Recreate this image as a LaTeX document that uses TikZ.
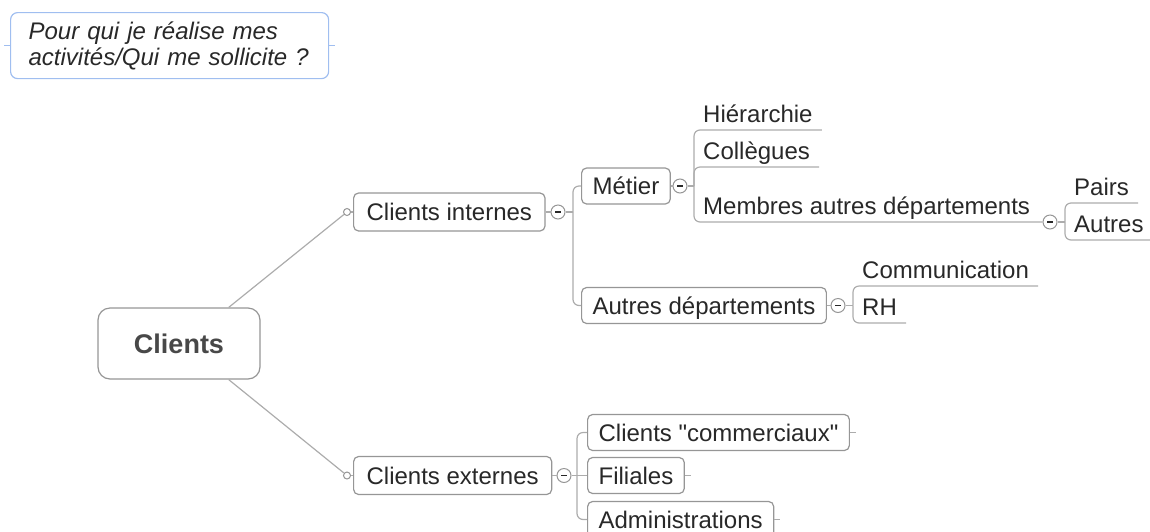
\documentclass[tikz,border=0pt]{standalone}
\usepackage{fontspec}
\newfontfamily\mmfont{Liberation Sans}
\usetikzlibrary{positioning}
\definecolor{mmline}{RGB}{172,172,172}
\definecolor{mmbox}{RGB}{150,150,150}
\definecolor{mmtext}{RGB}{40,40,40}
\definecolor{noteblue}{RGB}{160,190,240}
\tikzset{
  conn/.style={draw=mmline,line width=1.2pt},
  topic/.style={draw=mmbox,line width=1.2pt,rounded corners=5pt,fill=white,text=mmtext,font=\mmfont\fontsize{24}{26}\selectfont,text height=19pt,text depth=2pt,inner xsep=11pt,minimum height=36pt,anchor=west},
  maintopic/.style={topic,inner xsep=13pt,minimum height=38pt},
  root/.style={draw=mmbox,line width=1.2pt,rounded corners=12pt,fill=white,text=mmtext!85,font=\mmfont\fontsize{27}{30}\selectfont\bfseries,minimum width=162pt,minimum height=71pt},
  leaf/.style={text=mmtext,font=\mmfont\fontsize{24}{26}\selectfont,text height=19pt,text depth=2pt,inner xsep=9pt,inner ysep=5.5pt,anchor=south west},
  coll/.style={circle,draw=mmbox,fill=white,line width=1pt,minimum size=14pt,inner sep=0pt,path picture={\draw[mmtext,line width=1.4pt] ([xshift=-3pt]path picture bounding box.center) -- ([xshift=3pt]path picture bounding box.center);}},
  knob/.style={circle,draw=mmbox,fill=white,line width=1pt,minimum size=7pt,inner sep=0pt},
  note/.style={draw=noteblue,line width=1.2pt,rounded corners=7pt,text=mmtext,font=\mmfont\fontsize{24}{26}\selectfont\itshape,align=left,text width=282pt,inner xsep=18pt,minimum height=66pt,anchor=north west}
}
\begin{document}
\begin{tikzpicture}[x=1pt,y=-1pt]
  \useasboundingbox (0,0) rectangle (1150,531);
  \clip (0,0) rectangle (1150,531);
  \node[note] (q) at (10,12) {Pour qui je réalise mes\\activités/Qui me sollicite ?};
  \draw[conn,draw=noteblue] (q.west) -- ++(-6,0); \draw[conn,draw=noteblue] (q.east) -- ++(6,0);
  \node[root] (cl) at (179,343.5) {Clients};
  \node[maintopic] (ci) at (353,212) {Clients internes};
  \node[maintopic] (ce) at (353,475.5) {Clients externes};
  \node[knob] (ki) at (347,212) {}; \node[knob] (ke) at (347,475.5) {};
  \draw[conn] (cl.36) -- (ki); \draw[conn] (ki) -- (ci);
  \draw[conn] (cl.-36) -- (ke); \draw[conn] (ke) -- (ce);
  % clients internes
  \node[coll] (mi) at (558,212) {}; \coordinate (bi) at (573,212);
  \node[topic] (met) at (581,186) {Métier};
  \node[topic] (aut) at (581,305.5) {Autres départements};
  \draw[conn] (ci) -- (mi); \draw[conn] (mi) -- (bi);
  \draw[conn,rounded corners=6pt] (bi) |- (met.west); \draw[conn,rounded corners=6pt] (bi) |- (aut.west);
  \node[coll] (mm) at (680,186) {}; \coordinate (bm) at (694,186);
  \node[leaf] (hie) at (694,130) {Hiérarchie};
  \node[leaf] (col) at (694,167) {Collègues};
  \node[leaf] (mem) at (694,222) {Membres autres départements};
  \node[coll] (mmem) at (1050,222) {};
  \draw[conn] (met) -- (mm); \draw[conn] (mm) -- (bm);
  \draw[conn,rounded corners=6pt] (bm) |- (hie.south east); \draw[conn,rounded corners=6pt] (bm) |- (col.south east);
  \draw[conn,rounded corners=6pt] (bm) |- (mmem.west);
  \coordinate (bp) at (1065,222);
  \node[leaf] (pai) at (1065,203) {Pairs}; \node[leaf] (aus) at (1065,240) {Autres};
  \draw[conn] (mmem) -- (bp);
  \draw[conn,rounded corners=6pt] (bp) |- (pai.south east); \draw[conn,rounded corners=6pt] (bp) |- (aus.south east);
  \node[coll] (ma) at (838,305.5) {}; \coordinate (bc) at (853,305.5);
  \node[leaf] (com) at (853,286) {Communication}; \node[leaf] (rh) at (853,323) {RH};
  \draw[conn] (aut) -- (ma); \draw[conn] (ma) -- (bc);
  \draw[conn,rounded corners=6pt] (bc) |- (com.south east); \draw[conn,rounded corners=6pt] (bc) |- (rh.south east);
  % clients externes
  \node[coll] (me) at (564,475.5) {}; \coordinate (be) at (577,475.5);
  \node[topic] (ccom) at (587,432.5) {Clients "commerciaux"};
  \node[topic] (fil) at (587,475.5) {Filiales};
  \node[topic] (adm) at (587,519.5) {Administrations};
  \draw[conn] (ce) -- (me); \draw[conn] (me) -- (be);
  \draw[conn,rounded corners=6pt] (be) |- (ccom.west); \draw[conn] (be) -- (fil.west);
  \draw[conn,rounded corners=6pt] (be) |- (adm.west);
  \draw[conn] (ccom.east) -- ++(6,0); \draw[conn] (fil.east) -- ++(6,0); \draw[conn] (adm.east) -- ++(6,0);
\end{tikzpicture}
\end{document}
